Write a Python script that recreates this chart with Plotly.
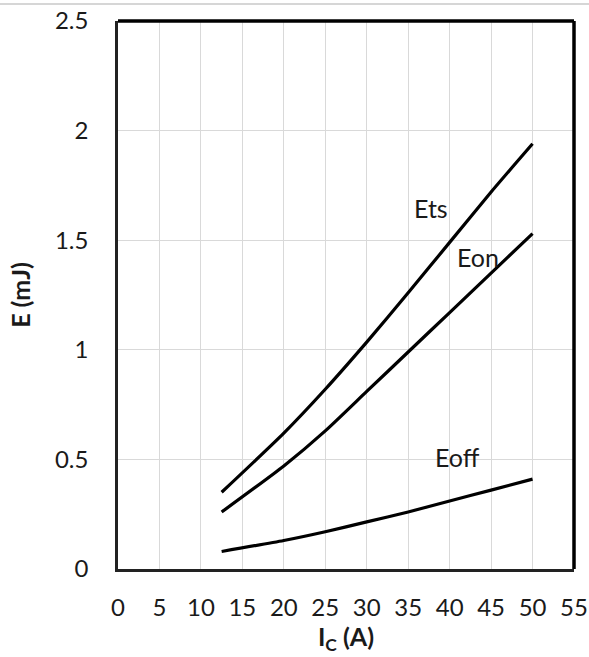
import plotly.graph_objects as go

# Collector current (A)
ic = [12.5, 20, 25, 30, 35, 40, 45, 50]

# Switching energies (mJ)
e_ts = [0.35, 0.62, 0.82, 1.035, 1.26, 1.49, 1.72, 1.94]
e_on = [0.26, 0.47, 0.63, 0.81, 0.99, 1.17, 1.35, 1.53]
e_off = [0.08, 0.13, 0.17, 0.215, 0.26, 0.31, 0.36, 0.41]

x_ticks = list(range(0, 56, 5))
y_ticks = [0, 0.5, 1, 1.5, 2, 2.5]
y_tick_text = ["0", "0.5", "1", "1.5", "2", "2.5"]

# Curve label positions (data coordinates)
labels = [("Ets", 37.7, 1.645), ("Eon", 43.4, 1.425), ("Eoff", 40.9, 0.51)]

FONT = "Lato, Open Sans, sans-serif"
INK = "#1a1a1a"
FS = 24

fig = go.Figure()
for name, ys in (("Ets", e_ts), ("Eon", e_on), ("Eoff", e_off)):
    fig.add_trace(go.Scatter(
        x=ic, y=ys, mode="lines", name=name,
        line=dict(color="black", width=3.2, shape="spline", smoothing=0.6),
        showlegend=False,
    ))

for text, lx, ly in labels:
    fig.add_annotation(x=lx, y=ly, text=text, showarrow=False,
                       font=dict(family=FONT, size=FS + 1, color=INK))

# heavy top and right frame edges
fig.add_shape(type="line", xref="paper", yref="paper", x0=0, x1=1, y0=1, y1=1,
              line=dict(color="black", width=3.5))
fig.add_shape(type="line", xref="paper", yref="paper", x0=1, x1=1, y0=0, y1=1,
              line=dict(color="black", width=3.5))
# thin rule along the top of the page
fig.add_shape(type="line", xref="paper", yref="paper", x0=-0.3, x1=1.1,
              y0=1 + 17 / 547, y1=1 + 17 / 547,
              line=dict(color="#c8c8c8", width=1.5))

fig.update_layout(
    width=589, height=657,
    margin=dict(l=118, r=15, t=21, b=88),
    paper_bgcolor="white", plot_bgcolor="white",
    font=dict(family=FONT, size=FS, color=INK),
    xaxis=dict(
        range=[0, 55], tickvals=x_ticks, ticktext=[str(v) for v in x_ticks],
        showgrid=True, gridcolor="#d9d9d9", gridwidth=1,
        showline=True, linecolor="#222222", linewidth=2.5,
        zeroline=False, ticks="", ticklabelstandoff=15,
        ticklabeloverflow="allow", automargin=False,
        tickfont=dict(family=FONT, size=FS, color=INK),
        title=dict(text="<b>I<sub>C</sub> (A)</b>", standoff=4,
                   font=dict(family=FONT, size=FS + 1, color=INK)),
    ),
    yaxis=dict(
        range=[0, 2.5], tickvals=y_ticks, ticktext=y_tick_text,
        showgrid=True, gridcolor="#d9d9d9", gridwidth=1,
        showline=True, linecolor="#222222", linewidth=2.5,
        zeroline=False, ticks="", ticklabelstandoff=22,
        ticklabeloverflow="allow", automargin=False,
        tickfont=dict(family=FONT, size=FS, color=INK),
        title=dict(text="<b>E (mJ)</b>", standoff=18,
                   font=dict(family=FONT, size=FS + 1, color=INK)),
    ),
)

fig.write_html("out.html")
